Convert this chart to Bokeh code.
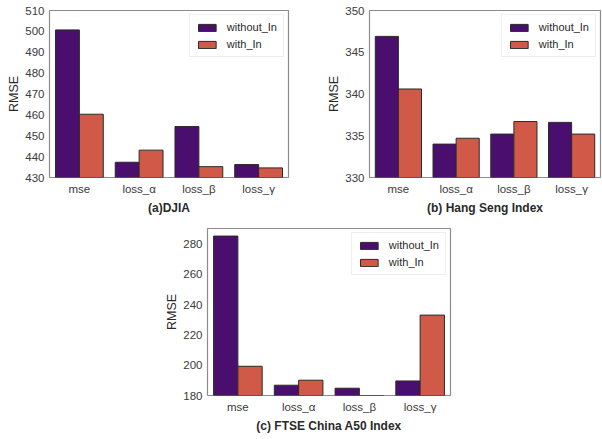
from bokeh.plotting import figure
from bokeh.models import ColumnDataSource, FactorRange, FixedTicker, Range1d, Legend, LegendItem, Spacer
from bokeh.transform import dodge
from bokeh.layouts import row, column
from bokeh.embed import file_html
from bokeh.resources import INLINE

categories = ["mse", "loss_α", "loss_β", "loss_γ"]
series_names = ["without_In", "with_In"]

djia_without = [500.7, 437.3, 454.4, 436.2]
djia_with = [460.3, 443.1, 435.2, 434.6]
djia_ticks = [430, 440, 450, 460, 470, 480, 490, 500, 510]

hsi_without = [346.9, 334.0, 335.2, 336.6]
hsi_with = [340.6, 334.7, 336.7, 335.2]
hsi_ticks = [330, 335, 340, 345, 350]

ftse_without = [285.3, 186.8, 184.8, 189.6]
ftse_with = [199.3, 190.1, 178.0, 233.1]
ftse_ticks = [180, 200, 220, 240, 260, 280]

titles = ["(a)DJIA", "(b) Hang Seng Index", "(c) FTSE China A50 Index"]

PURPLE = "#4a0f6e"
ORANGE = "#d05a47"
FONT = "Liberation Sans"


def make_panel(without, with_, ticks, ylo, yhi, title, width, height, bl, br, bt, bb):
    src = ColumnDataSource(dict(cat=categories, without=without, with_=with_))
    p = figure(x_range=FactorRange(factors=categories), y_range=Range1d(ylo, yhi),
               width=width, height=height, output_backend="svg", toolbar_location=None,
               min_border_left=bl, min_border_right=br, min_border_top=bt, min_border_bottom=bb)
    r1 = p.vbar(x=dodge("cat", -0.2, range=p.x_range), top="without", bottom=0, width=0.4,
                source=src, fill_color=PURPLE, line_color="#2a2a2a", line_width=1)
    r2 = p.vbar(x=dodge("cat", 0.2, range=p.x_range), top="with_", bottom=0, width=0.4,
                source=src, fill_color=ORANGE, line_color="#2a2a2a", line_width=1)
    p.xgrid.visible = False
    p.ygrid.visible = False
    p.outline_line_color = "#8c8c8c"
    p.outline_line_width = 1.2
    p.yaxis.ticker = FixedTicker(ticks=ticks)
    for ax in (p.xaxis[0], p.yaxis[0]):
        ax.axis_line_color = None
        ax.major_tick_line_color = None
        ax.minor_tick_line_color = None
        ax.major_tick_out = 0
        ax.major_tick_in = 0
        ax.major_label_text_font = FONT
        ax.major_label_text_font_size = "11.5px"
        ax.major_label_text_color = "#3a3a3a"
        ax.axis_label_text_font = FONT
        ax.axis_label_text_color = "#2a2a2a"
    p.yaxis.axis_label = "RMSE"
    p.yaxis.axis_label_text_font_style = "normal"
    p.yaxis.axis_label_text_font_size = "12.5px"
    p.yaxis.major_label_standoff = 5
    p.yaxis.axis_label_standoff = 1
    p.xaxis.axis_label = title
    p.xaxis.axis_label_text_font_style = "bold"
    p.xaxis.axis_label_text_font_size = "12px"
    p.xaxis.major_label_standoff = 5
    p.xaxis.axis_label_standoff = 3
    legend = Legend(items=[LegendItem(label=series_names[0], renderers=[r1]),
                           LegendItem(label=series_names[1], renderers=[r2])],
                    location="top_right")
    legend.label_text_font = FONT
    legend.label_text_font_size = "11px"
    legend.label_text_color = "#2a2a2a"
    legend.glyph_width = 22
    legend.glyph_height = 9
    legend.label_height = 12
    legend.label_standoff = 9
    legend.spacing = 5
    legend.padding = 6
    legend.margin = 4
    legend.border_line_color = "#dddddd"
    legend.border_line_width = 1
    legend.background_fill_alpha = 0.9
    p.add_layout(legend)
    return p


p1 = make_panel(djia_without, djia_with, djia_ticks, 430, 510, titles[0],
                300, 217, 49, 12, 10, 30)
p2 = make_panel(hsi_without, hsi_with, hsi_ticks, 330, 350, titles[1],
                302, 217, 69, 2, 10, 30)
p3 = make_panel(ftse_without, ftse_with, ftse_ticks, 180, 290.3, titles[2],
                300, 218, 47, 10, 11, 30)

layout = column(row(p1, p2), row(Spacer(width=160), p3))

open("out.html", "w").write(file_html(layout, INLINE))
